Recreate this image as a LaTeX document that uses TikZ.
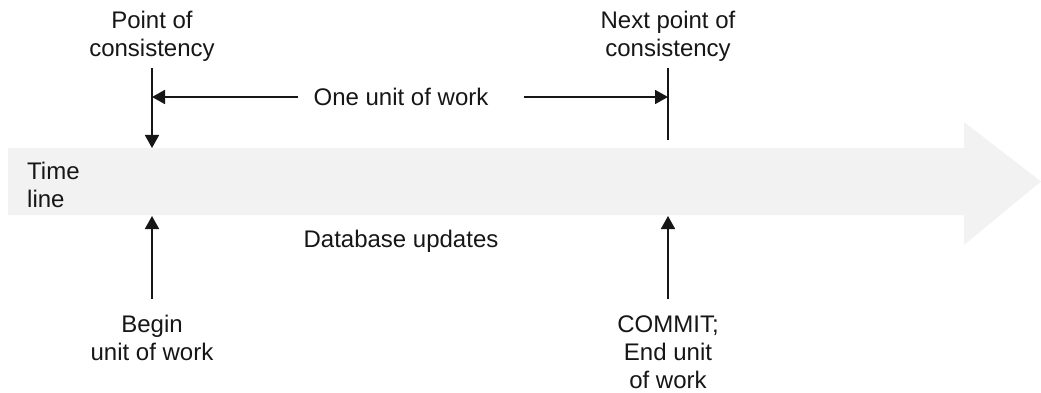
\documentclass[tikz,border=0pt]{standalone}
\usepackage{fontspec}
\setmainfont{Liberation Sans}
\usetikzlibrary{arrows.meta,positioning}

\definecolor{ink}{HTML}{161616}
\definecolor{bandgray}{HTML}{F2F2F2}

\begin{document}
\begin{tikzpicture}
[x=1pt,y=-1pt,
lbl/.style={align=center,inner sep=0pt,text=ink,font=\fontsize{24}{28}\selectfont},
tick/.style={draw=ink,line width=1.8pt},
pointer/.style={tick,-{Triangle[length=13pt,width=14pt]}},
band/.style={fill=bandgray}]

\useasboundingbox (0,0) rectangle (1041,393);

% the time line itself
\fill[band] (8,148) -- (964,148) -- (964,122) -- (1041,181.5)
	-- (964,245) -- (964,215) -- (8,215) -- cycle;
% multi-line nodes: base anchor sits on the last line
\node[lbl,align=left,anchor=base west] (timeline) at (27,207) {Time\\line};

% points of consistency
\node[lbl,anchor=base] (start) at (152,57) {Point of\\consistency};
\node[lbl,anchor=base] (next) at (668,57) {Next point of\\consistency};

\coordinate (start top) at (152,68);
\coordinate (start mid) at (152,97);
\coordinate (start band) at (152,148);
\coordinate (next top) at (668,68);
\coordinate (next mid) at (668,97);
\coordinate (next band) at (668,140);

\draw[pointer] (start top) -- (start band);
\draw[tick] (next top) -- (next band);

% the unit of work between them
\node[lbl,inner xsep=15pt] (unit) at (401,97) {One unit of work};
\coordinate[right=20pt of unit.east] (unit gap);
\draw[pointer] (unit) -- (start mid);
\draw[pointer] (unit gap) -- (next mid);

\node[lbl] (updates) at (401,241) {Database updates};

% begin and end of the unit
\node[lbl,anchor=base] (begin) at (152,360) {Begin\\unit of work};
\node[lbl,anchor=base] (commit) at (668,388) {COMMIT;\\End unit\\of work};

\coordinate (begin foot) at (152,299);
\coordinate (begin band) at (152,216);
\coordinate (commit foot) at (668,299);
\coordinate (commit band) at (668,216);

\draw[pointer] (begin foot) -- (begin band);
\draw[pointer] (commit foot) -- (commit band);

\end{tikzpicture}
\end{document}
